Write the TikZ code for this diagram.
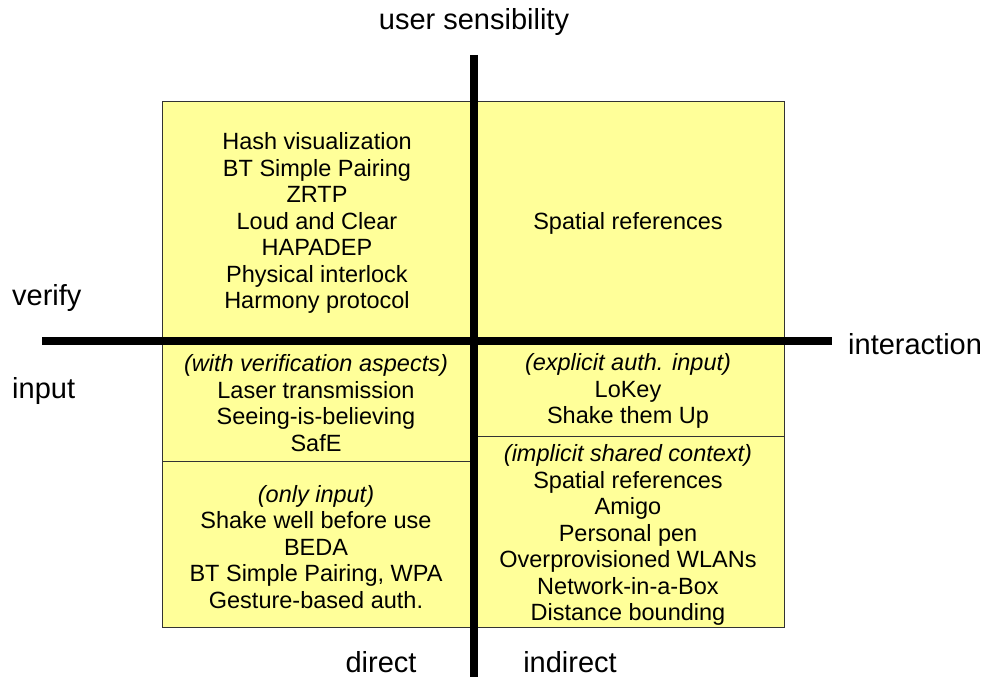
\documentclass[tikz,border=0pt]{standalone}
\usepackage{fontspec}
\setmainfont{Liberation Sans}
\definecolor{boxyellow}{HTML}{FFFF99}
\definecolor{boxedge}{HTML}{333333}
\begin{document}
\begin{tikzpicture}[x=1pt,y=-1pt,
  quad/.style={align=center,inner sep=0pt,font=\fontsize{23.5}{26.5}\selectfont},
  axislabel/.style={inner sep=0pt,font=\fontsize{29}{32}\selectfont},
  axis/.style={line width=8.7pt,black},
  divider/.style={line width=1pt,boxedge}]
\useasboundingbox (0,0) rectangle (993,677);
\path[fill=boxyellow,draw=boxedge,line width=1pt] (162,101.5) rectangle (784,627);
\draw[divider] (162,461) -- (474,461);
\draw[divider] (474,436.5) -- (784,436.5);
\node[quad] (tl) at (317,223) {Hash visualization\\BT Simple Pairing\\ZRTP\\Loud and Clear\\HAPADEP\\Physical interlock\\Harmony protocol};
\node[quad] (tr) at (628,223) {Spatial references};
\node[quad] (lm) at (316,403) {\itshape (with verification aspects)\\Laser transmission\\Seeing-is-believing\\SafE};
\node[quad] (lb) at (316,547) {\itshape (only input)\\Shake well before use\\BEDA\\BT Simple Pairing, WPA\\Gesture-based auth.};
\node[quad] (rm) at (628,391) {\itshape (explicit auth. input)\\LoKey\\Shake them Up};
\node[quad] (rb) at (628,535) {\itshape (implicit shared context)\\Spatial references\\Amigo\\Personal pen\\Overprovisioned WLANs\\Network-in-a-Box\\Distance bounding};
\coordinate (vtop) at (474,55);
\coordinate (vbot) at (474,677);
\coordinate (hleft) at (42,341);
\coordinate (hright) at (832,341);
\draw[axis] (vtop) -- (vbot);
\draw[axis] (hleft) -- (hright);
\node[axislabel] (us) at (474,22) {user sensibility};
\node[axislabel,anchor=west] (ver) at (12,298) {verify};
\node[axislabel,anchor=west] (inp) at (12,391) {input};
\node[axislabel,anchor=west] (int) at (848,344) {interaction};
\node[axislabel,anchor=base] (dir) at (381,672) {direct};
\node[axislabel,anchor=base] (ind) at (570,672) {indirect};
\end{tikzpicture}
\end{document}
